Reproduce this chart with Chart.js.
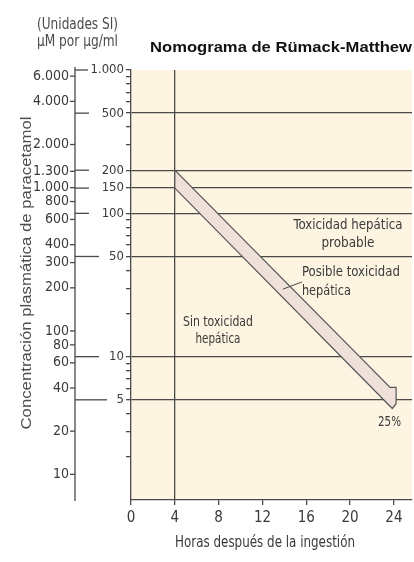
<!DOCTYPE html>
<html>
<head>
<meta charset="utf-8">
<script src="https://cdn.jsdelivr.net/npm/chart.js@4"></script>
<style>
html, body { margin: 0; padding: 0; background: #fff; }
canvas { display: block; }
</style>
</head>
<body>
<canvas id="nomo" width="414" height="562"></canvas>
<script>
// Rumack-Matthew nomogram, values
const hourTicks = [0, 4, 8, 12, 16, 20, 24];
const ugMajor = [1000, 500, 200, 150, 100, 50, 10, 5];
const ugMinor = [900, 800, 700, 600, 400, 300, 90, 80, 70, 60, 40, 30, 20, 9, 8, 7, 6, 4, 3, 2];
const umTicks = [6000, 4000, 2000, 1300, 1000, 800, 600, 400, 300, 200, 100, 80, 60, 40, 20, 10];
const umPerUg = 6.62;

// band outline in hours / µg/ml, closes with the arrow head at 24 h
const bandHours  = [4, 23.65, 24.2, 24.2, 23.85, 4, 4];
const bandLevels = [200, 6.1, 6.1, 4.7, 4.35, 150, 200];

const fmt = v => String(v).replace(/\B(?=(\d{3})+$)/g, '.');
const narrow = "'Liberation Sans Narrow', 'DejaVu Sans Condensed', 'Liberation Sans', sans-serif";
const plain = "'Liberation Sans', Arial, sans-serif";
const ink = '#3a3a3a';
const line = '#4a4a4a';

// text squeezed to the width it has in the print
function put(ctx, text, x, y, font, color, align, width, rot) {
  ctx.save();
  ctx.font = font;
  ctx.fillStyle = color;
  ctx.textBaseline = 'middle';
  ctx.textAlign = align;
  const k = width ? width / ctx.measureText(text).width : 1;
  ctx.translate(x, y);
  if (rot) ctx.rotate(rot);
  ctx.scale(k, 1);
  ctx.fillText(text, 0, 0);
  ctx.restore();
}

const nomogram = {
  id: 'nomogram',
  beforeDraw(chart) {
    const { ctx, chartArea: a } = chart;
    ctx.save();
    ctx.fillStyle = '#fdf5e2';
    ctx.fillRect(a.left, a.top, a.right - a.left, a.bottom - a.top);
    ctx.restore();
  },
  afterDraw(chart) {
    const { ctx, scales: { x, y } } = chart;
    const ax = 75;
    ctx.save();
    ctx.strokeStyle = line;
    ctx.lineWidth = 1.3;

    // µM axis, same log scale shifted by the molar factor
    ctx.beginPath();
    ctx.moveTo(ax, y.top - 3);
    ctx.lineTo(ax, y.bottom + 1);
    ctx.stroke();
    umTicks.forEach(v => {
      const py = y.getPixelForValue(v / umPerUg);
      ctx.beginPath();
      ctx.moveTo(ax - 5, py);
      ctx.lineTo(ax, py);
      ctx.stroke();
      put(ctx, fmt(v), ax - 6, py, '14px ' + narrow, ink, 'right');
    });
    const markLen = [13, 14, 14, 14, 14, 24, 24, 32];
    ugMajor.forEach((v, i) => {
      const py = y.getPixelForValue(v);
      ctx.beginPath();
      ctx.moveTo(ax, py);
      ctx.lineTo(ax + markLen[i], py);
      ctx.stroke();
    });

    // leader line for "Posible toxicidad"
    ctx.lineWidth = 1;
    ctx.beginPath();
    ctx.moveTo(x.getPixelForValue(15.6), y.getPixelForValue(33.2));
    ctx.lineTo(x.getPixelForValue(13.87), y.getPixelForValue(29.6));
    ctx.stroke();
    ctx.restore();

    const f14 = '14px ' + narrow;
    const at = (h, v) => [x.getPixelForValue(h), y.getPixelForValue(v)];
    let p;
    p = at(19.8, 82.8); put(ctx, 'Toxicidad hepática', p[0], p[1], f14, ink, 'center', 109);
    p = at(19.8, 62.0); put(ctx, 'probable', p[0], p[1], f14, ink, 'center', 53);
    p = at(15.6, 38.9); put(ctx, 'Posible toxicidad', p[0], p[1], f14, ink, 'left', 98);
    p = at(15.6, 28.7); put(ctx, 'hepática', p[0], p[1], f14, ink, 'left', 49);
    p = at(7.94, 17.4); put(ctx, 'Sin toxicidad', p[0], p[1], f14, ink, 'center', 70);
    p = at(7.94, 13.1); put(ctx, 'hepática', p[0], p[1], f14, ink, 'center', 45);
    p = at(23.6, 3.5); put(ctx, '25%', p[0], p[1], f14, ink, 'center', 23);

    // headings and axis titles
    put(ctx, '(Unidades SI)', 37, 25, '15px ' + narrow, '#4a4a4a', 'left', 81);
    put(ctx, 'µM por µg/ml', 37, 42, '15px ' + narrow, '#4a4a4a', 'left', 81);
    put(ctx, 'Nomograma de Rümack-Matthew', 150, 47.5, 'bold 15px ' + plain, '#111', 'left', 262);
    put(ctx, 'Concentración plasmática de paracetamol', 27, 273, '15px ' + plain, '#4d4d4d', 'center', 313, -Math.PI / 2);
    put(ctx, 'Horas después de la ingestión', 265, 543, '15px ' + narrow, ink, 'center', 180);
  }
};

new Chart(document.getElementById('nomo'), {
  type: 'scatter',
  data: {
    datasets: [{
      data: bandHours.map((h, i) => ({ x: h, y: bandLevels[i] })),
      showLine: true,
      fill: 'shape',
      backgroundColor: '#f0e0da',
      borderColor: '#555',
      borderWidth: 1.2,
      pointRadius: 0,
      tension: 0
    }]
  },
  options: {
    responsive: false,
    animation: false,
    devicePixelRatio: 1,
    events: [],
    layout: { padding: { top: 70, left: 0, right: 2, bottom: 0 } },
    plugins: { legend: { display: false }, tooltip: { enabled: false }, title: { display: false } },
    scales: {
      x: {
        type: 'linear',
        min: 0,
        max: 25.65,
        afterBuildTicks: s => { s.ticks = hourTicks.map(v => ({ value: v })); },
        afterFit: s => { s.height = 62; },
        grid: {
          color: c => (c.tick && c.tick.value === 4 ? line : 'transparent'),
          tickColor: line,
          tickLength: 5,
          lineWidth: 1.3
        },
        border: { color: line, width: 1.3 },
        ticks: { font: { family: narrow, size: 15 }, color: ink, padding: 4, maxRotation: 0, autoSkip: false }
      },
      y: {
        type: 'logarithmic',
        position: 'left',
        min: 1,
        max: 1000,
        afterBuildTicks: s => { s.ticks = ugMajor.concat(ugMinor).sort((a, b) => b - a).map(v => ({ value: v })); },
        afterFit: s => { s.width = 131; },
        grid: {
          color: c => (c.tick && ugMajor.includes(c.tick.value) && c.tick.value !== 1000 ? line : 'transparent'),
          tickColor: line,
          tickLength: 5,
          lineWidth: 1.3
        },
        border: { color: line, width: 1.3 },
        ticks: {
          font: { family: narrow, size: 13 },
          color: ink,
          padding: 2,
          autoSkip: false,
          callback: v => (ugMajor.includes(v) ? fmt(v) : '')
        }
      }
    }
  },
  plugins: [nomogram]
});
</script>
</body>
</html>
